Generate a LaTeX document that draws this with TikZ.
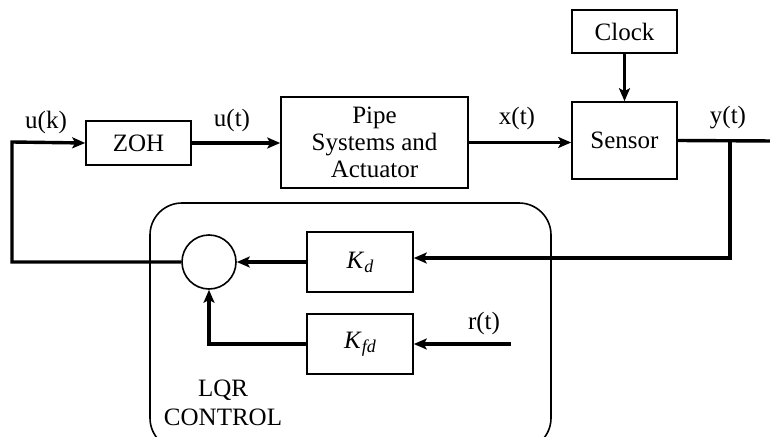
\documentclass[tikz,border=0pt]{standalone}
\usepackage{fontspec}
\setmainfont{Liberation Serif}
\usetikzlibrary{arrows.meta}
\begin{document}
\begin{tikzpicture}[x=1pt,y=-1pt,
  blk/.style={draw,line width=1.6pt,minimum width=105pt,inner sep=0pt},
  sig/.style={line width=3.4pt},
  arr/.style={sig,-{Stealth[length=13pt,width=11pt,inset=3pt]}},
  lbl/.style={font=\fontsize{25}{27}\selectfont},
  every node/.append style={font=\fontsize{25}{28}\selectfont}]
\useasboundingbox (0,0) rectangle (770,436);
\clip (0,0) rectangle (770,436);
% LQR container
\draw[line width=1.6pt,rounded corners=32pt] (150,203) rectangle (551,450);
% blocks
\node[blk,minimum height=44pt] (zoh) at (138.5,143) {ZOH};
\node[blk,minimum width=187pt,minimum height=91pt,align=center,font=\fontsize{25}{27}\selectfont] (pipe) at (374.5,142.5) {Pipe\\Systems and\\Actuator};
\node[blk,minimum height=77pt] (sensor) at (624.5,140.5) {Sensor};
\node[blk,minimum height=43pt] (clock) at (624.5,31.5) {Clock};
\node[blk,minimum width=106pt,minimum height=60pt] (kd) at (360,262) {\textit{K}\raisebox{-0.35ex}{\fontsize{18}{19}\selectfont\textit{d}}};
\node[blk,minimum width=106pt,minimum height=60pt] (kfd) at (360,344) {\textit{K}\raisebox{-0.35ex}{\fontsize{18}{19}\selectfont\textit{fd}}};
\node[draw,circle,line width=1.6pt,minimum size=54pt,inner sep=0pt] (sum) at (209,262) {};
% coordinates
\coordinate (fbL) at (12,262);
\coordinate (fbTop) at (12,142);
\coordinate (br) at (730,141);
\coordinate (brDown) at (730,258);
\coordinate (yEnd) at (775,141);
\coordinate (rStart) at (511,344);
\coordinate (kfdCorner) at (209,344);
% connectors
\draw[arr] (sum.west) -- (fbL) -- (fbTop) -- (zoh.west);
\draw[arr] (zoh.east) -- (pipe.west |- zoh.east);
\draw[arr] (pipe.east) -- (sensor.west |- pipe.east);
\draw[arr] (clock.south) -- (sensor.north);
\draw[sig] (sensor.east) -- (yEnd);
\draw[arr] (br) -- (brDown) -- (kd.east |- brDown);
\draw[arr] (kd.west) -- (sum.east);
\draw[arr] (rStart) -- (kfd.east);
\draw[arr] (kfd.west) -- (kfdCorner) -- (sum.south);
% labels
\node[lbl] (uk) at (46,122) {u(k)};
\node[lbl] (ut) at (232,120) {u(t)};
\node[lbl] (xt) at (517,118) {x(t)};
\node[lbl] (yt) at (728,118) {y(t)};
\node[lbl] (rt) at (484,323) {r(t)};
\node[align=center,font=\fontsize{25}{29}\selectfont] (lqr) at (223,403) {LQR\\CONTROL};
\end{tikzpicture}
\end{document}
